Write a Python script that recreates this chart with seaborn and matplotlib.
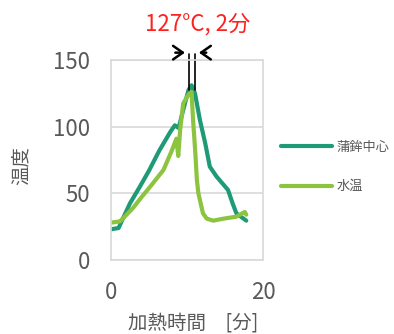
import pandas as pd
import seaborn as sns
import matplotlib.pyplot as plt

# 蒲鉾中心 (core temperature)
core_time = [0, 1.0, 1.4, 2.5, 3.8, 5.0, 6.4, 7.8, 8.4, 8.9, 9.5, 10.2, 10.6, 11.05, 11.7, 12.4, 13.0, 13.9, 15.4, 16.0, 16.5, 17.8]
core_temp = [23, 24, 29, 42.5, 55, 67, 82.5, 96, 101, 99, 112.5, 127.5, 131, 125, 105, 87.5, 70, 62.5, 52.5, 42.5, 35, 29.5]

# 水温 (water temperature)
water_time = [0, 1.2, 2.9, 4.0, 5.3, 6.9, 8.0, 8.6, 8.85, 9.1, 9.5, 10.2, 10.6, 10.8, 11.1, 11.3, 11.5, 12.1, 12.6, 13.45, 14.8, 16.5, 17.6, 17.8]
water_temp = [28, 29, 39, 47, 56, 67.5, 82, 91, 78, 97.5, 117.5, 124, 126, 105, 80, 60, 50, 35, 31, 29.5, 31, 32.5, 36, 34]

series_names = ["蒲鉾中心", "水温"]
colors = ["#1E9A77", "#8CC43F"]

df = pd.concat([
    pd.DataFrame({"time": core_time, "temp": core_temp, "series": series_names[0]}),
    pd.DataFrame({"time": water_time, "temp": water_temp, "series": series_names[1]}),
])

sns.set_theme(style="white")
plt.rcParams["font.family"] = ["Noto Sans CJK JP", "DejaVu Sans"]

fig = plt.figure(figsize=(3.94, 3.34), dpi=100)
ax = fig.add_axes([0.2817, 0.2216, 0.3858, 0.5988])

sns.lineplot(data=df, x="time", y="temp", hue="series", palette=colors,
             sort=False, estimator=None, linewidth=3, ax=ax,
             solid_capstyle="round", solid_joinstyle="round")

ax.set_xlim(0, 20)
ax.set_ylim(0, 150)
ax.set_xticks([0, 20])
ax.set_yticks([0, 50, 100, 150])
ax.grid(axis="y", color="#D9D9D9", linewidth=1.2)
for s in ax.spines.values():
    s.set_color("#D9D9D9")
    s.set_linewidth(1.2)
ax.tick_params(colors="#595959", labelsize=16, length=0, pad=15)

ax.set_xlabel("加熱時間\u3000[分]", fontsize=14, color="#595959")
ax.xaxis.set_label_coords(0.54, -0.265)
ax.set_ylabel("温度", fontsize=14, color="#595959")
ax.yaxis.set_label_coords(-0.52, 0.47)

# 127°C hold markers
for xv in [10.2, 11.1]:
    ax.plot([xv, xv], [127.5, 154.5], color="black", linewidth=1.2, clip_on=False)
arrow = dict(arrowstyle="->,head_length=0.5,head_width=0.35", lw=1.8, color="black", mutation_scale=14)
ax.annotate("", xy=(10.1, 155.5), xytext=(8.1, 155.5), arrowprops=arrow, annotation_clip=False)
ax.annotate("", xy=(11.2, 155.5), xytext=(12.9, 155.5), arrowprops=arrow, annotation_clip=False)
ax.text(11.4, 177, "127°C, 2分", color="#FF2020", fontsize=16, ha="center", va="center", clip_on=False)

ax.legend(loc="center left", bbox_to_anchor=(1.04, 0.465), frameon=False,
          fontsize=9.5, handlelength=3.9, labelspacing=2.0, handletextpad=0.3,
          labelcolor="#595959", title=None)

plt.savefig("out.png", dpi=100)
plt.close()
